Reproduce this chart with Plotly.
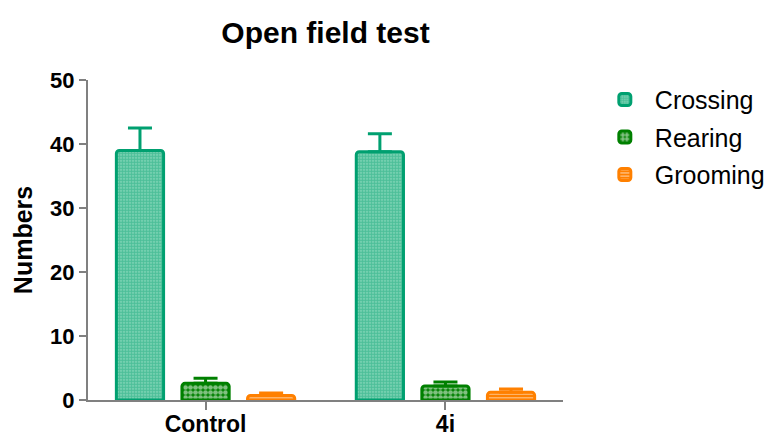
import plotly.graph_objects as go

groups = ["Control", "4i"]
series = ["Crossing", "Rearing", "Grooming"]
crossing = [39.0, 38.8]
crossing_err = [3.5, 2.8]
rearing = [2.6, 2.2]
rearing_err = [0.8, 0.6]
grooming = [0.7, 1.2]
grooming_err = [0.4, 0.5]

colors = {"Crossing": "#00A070", "Rearing": "#008000", "Grooming": "#FF8000"}
patterns = {
    "Crossing": dict(shape=".", fgcolor="#10A676", bgcolor="#8AD8BC", size=3, solidity=0.7, fillmode="overlay"),
    "Rearing": dict(shape=".", fgcolor="#FFFFFF", bgcolor="#008000", size=5, solidity=0.7, fillmode="overlay"),
    "Grooming": dict(shape="-", fgcolor="#FFFFFF", bgcolor="#FF8000", size=4, solidity=0.4, fillmode="overlay"),
}
vals = {"Crossing": (crossing, crossing_err), "Rearing": (rearing, rearing_err), "Grooming": (grooming, grooming_err)}

fig = go.Figure()
for s in series:
    v, e = vals[s]
    fig.add_trace(go.Bar(
        name=s, x=[0, 1], y=v, legendgroup=s,
        marker=dict(color=patterns[s]["bgcolor"], line=dict(color=colors[s], width=3),
                    pattern=patterns[s], cornerradius=3),
        error_y=dict(type="data", symmetric=False, array=e, arrayminus=[0, 0],
                     color=colors[s], thickness=3, width=12),
    ))

font = "Liberation Sans, Arial, sans-serif"
fig.update_layout(
    width=769, height=432,
    margin=dict(l=88, r=206, t=80, b=32, autoexpand=False),
    paper_bgcolor="white", plot_bgcolor="white",
    barmode="group", bargap=0.18, bargroupgap=0.28,
    title=dict(text="<b>Open field test</b>", x=(88 + 563) / 2 / 769, xanchor="center",
               y=1 - 32 / 432, yanchor="middle", font=dict(family=font, size=30, color="black")),
    showlegend=True,
    legend=dict(x=1.067, y=1.01, xanchor="left", yanchor="top",
                font=dict(family=font, size=25, color="black"),
                itemwidth=50, tracegroupgap=2, bgcolor="rgba(0,0,0,0)"),
    xaxis=dict(range=[-0.49, 1.49], tickmode="array", tickvals=[0, 1],
               ticktext=["<b>" + g + "</b>" for g in groups], automargin=False,
               showline=True, linecolor="#808080", linewidth=2,
               ticks="outside", ticklen=8, tickwidth=2, tickcolor="#808080", ticklabelstandoff=-6,
               tickfont=dict(family=font, size=23, color="black"), showgrid=False, zeroline=False),
    yaxis=dict(range=[0, 50], tickmode="array", tickvals=[0, 10, 20, 30, 40, 50],
               ticktext=["<b>%d</b>" % t for t in [0, 10, 20, 30, 40, 50]], automargin=False,
               showline=True, linecolor="#808080", linewidth=2,
               ticks="outside", ticklen=7, tickwidth=2, tickcolor="#808080",
               tickfont=dict(family=font, size=22, color="black"), showgrid=False, zeroline=False,
               title=dict(text="<b>Numbers</b>", font=dict(family=font, size=25, color="black"), standoff=10)),
)
fig.write_html("out.html", config={"displayModeBar": False},
               post_script="document.body.style.margin='0';")
